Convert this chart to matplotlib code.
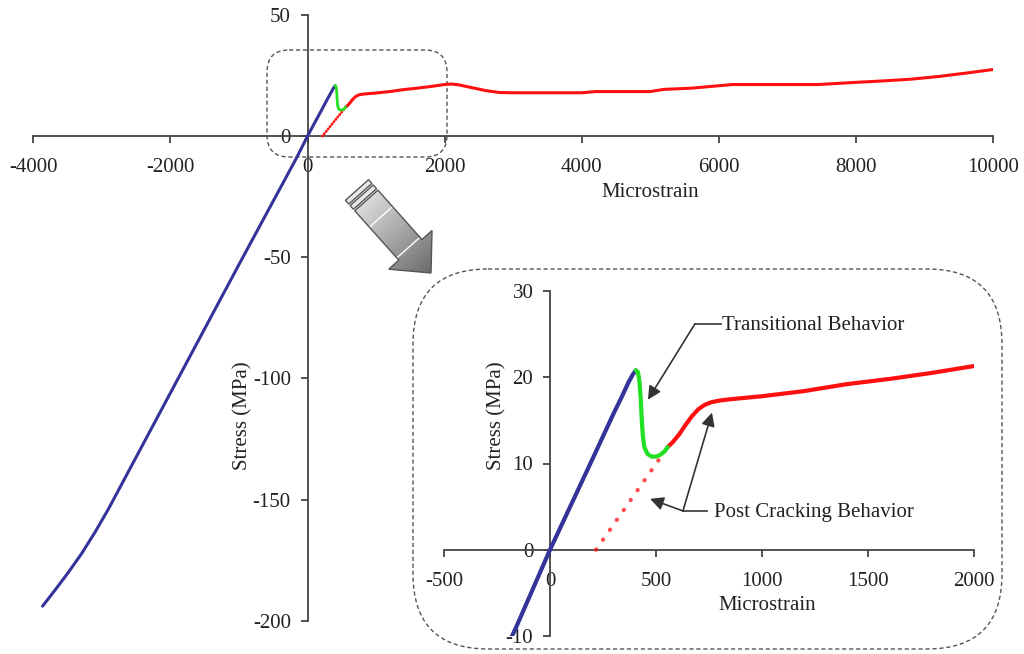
import numpy as np
import matplotlib.pyplot as plt
from matplotlib.patches import FancyBboxPatch, Polygon

plt.rcParams['font.family'] = ['Liberation Serif', 'DejaVu Serif']
plt.rcParams['font.size'] = 15
plt.rcParams['axes.unicode_minus'] = False

# ___ data (microstrain, MPa)
blue_strain = [-3865, -3700, -3500, -3300, -3100, -2900, -2000, -1000, -160, 0,
               200, 300, 340, 370, 390, 405]
blue_stress = [-194, -188, -180.5, -172.5, -163.5, -153.7, -106, -53, -9.0, 0,
               10.5, 15.8, 17.8, 19.4, 20.3, 20.8]

green_strain = [405, 415, 422, 428, 433, 438, 445, 460, 480, 500, 520, 540, 555]
green_stress = [20.8, 20.6, 19.5, 17.5, 15.0, 13.2, 11.9, 11.1, 10.8, 10.8,
                11.0, 11.4, 11.9]

red_strain = [555, 580, 610, 640, 670, 700, 730, 760, 800, 850, 1000, 1200,
              1400, 1600, 1800, 2000, 2100, 2200, 2400, 2600, 2800, 3000,
              3500, 4000, 4200, 4800, 5000, 5200, 5600, 6000, 6200, 7000,
              7450, 8000, 8400, 8800, 9200, 9600, 10000]
red_stress = [11.9, 12.5, 13.4, 14.5, 15.5, 16.3, 16.8, 17.1, 17.3, 17.45,
              17.8, 18.4, 19.2, 19.8, 20.5, 21.3, 21.5, 21.2, 20.0, 18.8,
              18.0, 17.9, 17.9, 17.9, 18.4, 18.4, 18.4, 19.3, 19.8, 20.8,
              21.3, 21.3, 21.3, 22.2, 22.8, 23.5, 24.6, 26.0, 27.5]

# extrapolated post cracking line (dotted)
dot_strain = [217, 555]
dot_stress = [0.0, 11.9]

main_xticks = list(range(-4000, 10001, 2000))
main_yticks = list(range(-200, 51, 50))
ins_xticks = list(range(-500, 2001, 500))
ins_yticks = list(range(-10, 31, 10))

BLUE = '#333399'
GREEN = '#22e022'
RED = '#ff1010'
AXC = '#444444'
TXT = '#222222'

W, H = 1024, 654
fig = plt.figure(figsize=(W / 100, H / 100), dpi=100)


def rect(x0, y0, x1, y1):
    # pixel box (origin top-left) -> figure fraction
    return [x0 / W, 1 - y1 / H, (x1 - x0) / W, (y1 - y0) / H]


# ___ overlay for the dashed frames and the big arrow
ov = fig.add_axes([0, 0, 1, 1], zorder=0)
ov.set_xlim(0, W)
ov.set_ylim(H, 0)
ov.axis('off')

for (x0, y0, x1, y1, r) in [(267, 50, 447, 157, 22), (413, 269, 1002, 649, 75)]:
    ov.add_patch(FancyBboxPatch((x0, y0), x1 - x0, y1 - y0,
                                boxstyle="round,pad=0,rounding_size=%d" % r,
                                fill=False, ec='#555555', lw=1.0,
                                ls=(0, (3, 2))))

S = np.array([357.0, 190.0])
T = np.array([431.0, 273.0])
L = np.linalg.norm(T - S)
u = (T - S) / L
n = np.array([-u[1], u[0]])
S2 = S + u * 14
B = T - u * 31
hw, hh = 15.5, 29.0
pts = [S2 + n * hw, B + n * hw, B + n * hh, T, B - n * hh, B - n * hw, S2 - n * hw]
arrow = Polygon(pts, closed=True, fc='none', ec='#555555', lw=1.0, zorder=3)
ov.add_patch(arrow)
gx, gy = np.meshgrid(np.linspace(330, 450, 240), np.linspace(170, 290, 240))
tt = ((gx - S[0]) * u[0] + (gy - S[1]) * u[1]) / L
img = ov.imshow(0.92 - 0.5 * np.clip(tt, 0, 1), cmap='gray', vmin=0, vmax=1,
                extent=(330, 450, 290, 170), zorder=2, interpolation='bilinear')
img.set_clip_path(Polygon(pts, closed=True, transform=ov.transData))
# cap bands and light stripes
for a0, a1 in [(0, 5), (7, 12)]:
    band = [S + u * a0 + n * hw, S + u * a1 + n * hw,
            S + u * a1 - n * hw, S + u * a0 - n * hw]
    ov.add_patch(Polygon(band, closed=True, fc='#e8e8e8', ec='#555555',
                         lw=1.0, zorder=3))
for a in [36, L - 34]:
    p = S + u * a
    ov.plot([p[0] - n[0] * (hw - 1.5), p[0] + n[0] * (hw - 1.5)],
            [p[1] - n[1] * (hw - 1.5), p[1] + n[1] * (hw - 1.5)],
            color='white', lw=1.0, zorder=3)

# ___ main chart
ax = fig.add_axes(rect(33.3, 15, 993, 620.7), zorder=1)
ax.plot(blue_strain, blue_stress, color=BLUE, lw=2.2, solid_capstyle='round',
        solid_joinstyle='round', zorder=4)
ax.plot(dot_strain, dot_stress, color=RED, lw=2.0, ls=(0, (0.1, 1.0)),
        dash_capstyle='round', zorder=3)
ax.plot(red_strain, red_stress, color=RED, lw=2.2, solid_capstyle='round', zorder=3)
ax.plot(green_strain, green_stress, color=GREEN, lw=2.0, zorder=4)
ax.set_xlim(-4000, 10000)
ax.set_ylim(-200, 50)
ax.set_xticks(main_xticks)
ax.set_yticks(main_yticks)
ax.set_xlabel('Microstrain', color=TXT)
ax.set_ylabel('Stress (MPa)', color=TXT)
ax.xaxis.set_label_coords(0.643, 0.707)
ax.yaxis.set_label_coords(0.218, 0.338)

# ___ zoomed inset
ax2 = fig.add_axes(rect(444, 291, 974, 636), zorder=2)
ax2.plot(blue_strain, blue_stress, color=BLUE, lw=3.0, solid_capstyle='round',
         solid_joinstyle='round', zorder=4)
ax2.plot(dot_strain, dot_stress, color=RED, lw=3.0, ls=(0, (0.1, 2.8)),
         dash_capstyle='round', alpha=0.75, zorder=3)
ax2.plot(red_strain, red_stress, color=RED, lw=3.0, solid_capstyle='round',
         solid_joinstyle='round', zorder=3)
ax2.plot(green_strain, green_stress, color=GREEN, lw=3.0, solid_capstyle='round',
         solid_joinstyle='round', zorder=4)
ax2.set_xlim(-500, 2000)
ax2.set_ylim(-10, 30)
ax2.set_xticks(ins_xticks)
ax2.set_yticks(ins_yticks)
ax2.set_xlabel('Microstrain', color=TXT)
ax2.set_ylabel('Stress (MPa)', color=TXT)
ax2.xaxis.set_label_coords(0.609, 0.087)
ax2.yaxis.set_label_coords(0.100, 0.640)

for a in (ax, ax2):
    a.patch.set_visible(False)
    a.spines['left'].set_position(('data', 0))
    a.spines['bottom'].set_position(('data', 0))
    a.spines['top'].set_visible(False)
    a.spines['right'].set_visible(False)
    for s in ('left', 'bottom'):
        a.spines[s].set_color(AXC)
        a.spines[s].set_linewidth(1.3)
    a.tick_params(direction='out', length=5, width=1.3, color=AXC,
                  labelcolor=TXT, labelsize=15)
    a.tick_params(axis='x', pad=11)
    a.tick_params(axis='y', pad=7)
    a.xaxis.label.set_va('center')
    a.yaxis.label.set_va('center')

# ___ callouts
CL = '#333333'
ax2.text(811, 26.0, 'Transitional Behavior', ha='left', va='center', color=TXT)
ax2.plot([805, 684], [26.2, 26.2], color=CL, lw=1.2)
ax2.annotate('', xy=(462, 17.4), xytext=(684, 26.2),
             arrowprops=dict(arrowstyle='-|>', color=CL, lw=1.2,
                             mutation_scale=20, shrinkA=0, shrinkB=0))
ax2.text(774, 4.3, 'Post Cracking Behavior', ha='left', va='center', color=TXT)
ax2.plot([742, 627], [4.5, 4.5], color=CL, lw=1.2)
ax2.annotate('', xy=(764, 15.9), xytext=(627, 4.5),
             arrowprops=dict(arrowstyle='-|>', color=CL, lw=1.2,
                             mutation_scale=20, shrinkA=0, shrinkB=0))
ax2.annotate('', xy=(472, 5.9), xytext=(627, 4.5),
             arrowprops=dict(arrowstyle='-|>', color=CL, lw=1.2,
                             mutation_scale=20, shrinkA=0, shrinkB=0))

fig.savefig('out.png', dpi=100, facecolor='white')
